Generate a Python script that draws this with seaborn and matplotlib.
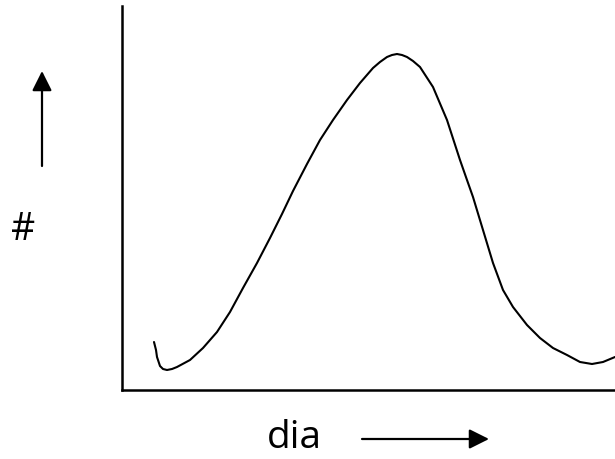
import matplotlib
matplotlib.use("Agg")
import matplotlib.pyplot as plt
from matplotlib.patches import FancyArrowPatch
import seaborn as sns
import pandas as pd

# Size distribution sketch: particle count versus diameter (arbitrary units)
dia = [32, 34, 35, 38, 41, 45, 50, 55, 68, 81, 95, 108, 121, 135, 148, 160,
       171, 185, 198, 211, 225, 238, 251, 258, 265, 270, 275, 280, 285, 291,
       298, 311, 325, 338, 345, 351, 361, 371, 381, 391, 405, 418, 431, 445,
       458, 470, 481, 493]
count = [48, 40, 33, 24, 21, 20, 21, 23, 30, 42, 58, 78, 102, 127, 152, 176,
         199, 226, 250, 270, 290, 307, 322, 328, 333, 335, 336, 335, 333, 329,
         323, 303, 270, 230, 210, 193, 160, 127, 100, 83, 65, 52, 42, 35,
         28, 26, 28, 33]

df = pd.DataFrame({"dia": dia, "count": count})

sns.set_style("white")
plt.rcParams["font.family"] = ["Open Sans", "DejaVu Sans"]
plt.rcParams["text.color"] = "black"

fig = plt.figure(figsize=(6.15, 4.59), dpi=100)
ax = fig.add_axes([122 / 615, 69 / 459, 493 / 615, 384 / 459])

sns.lineplot(data=df, x="dia", y="count", ax=ax, color="black",
             linewidth=1.5, sort=False, estimator=None,
             solid_joinstyle="round", solid_capstyle="round")

ax.set_xlim(0, 493)
ax.set_ylim(0, 384)
ax.set_xticks([])
ax.set_yticks([])
ax.set_xlabel("")
ax.set_ylabel("")
sns.despine(ax=ax)
for side in ("left", "bottom"):
    ax.spines[side].set_linewidth(1.8)
    ax.spines[side].set_color("black")

# Axis captions with direction arrows
fig.text(23 / 615, 229 / 459, "#", ha="center", va="center", fontsize=27,
         color="black")
fig.text(294 / 615, 21 / 459, "dia", ha="center", va="center", fontsize=28,
         color="black")

arrow = dict(arrowstyle="-|>,head_length=0.6,head_width=0.3", color="black",
             lw=1.6, mutation_scale=20, shrinkA=0, shrinkB=0)
fig.add_artist(FancyArrowPatch((42 / 615, 293 / 459), (42 / 615, 388 / 459),
                               transform=fig.transFigure, **arrow))
fig.add_artist(FancyArrowPatch((362 / 615, 20 / 459), (489 / 615, 20 / 459),
                               transform=fig.transFigure, **arrow))

fig.savefig("out.png", dpi=100)
